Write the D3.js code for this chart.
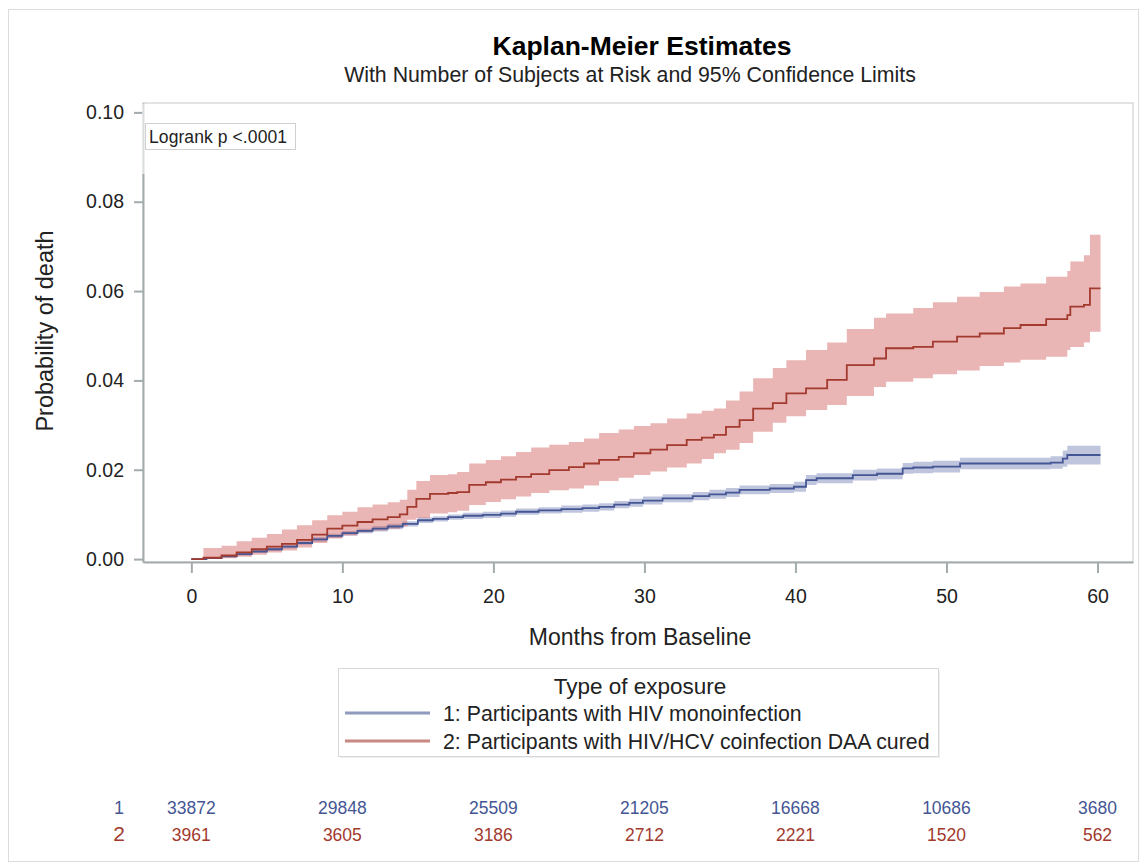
<!DOCTYPE html>
<html>
<head>
<meta charset="utf-8">
<script src="https://cdn.jsdelivr.net/npm/d3@7"></script>
<style>
  body { margin: 0; background: #fff; }
  text { font-family: "Liberation Sans", Arial, sans-serif; }
</style>
</head>
<body>
<script>
// group 1: HIV monoinfection
var blueTime = [0, 1, 2, 3, 4, 5, 6, 7, 8, 9, 10, 11, 12, 13, 14, 15, 16, 17, 18,
    19.3, 20.5, 21.5, 23, 24.5, 25.9, 27, 28, 29, 29.9,
    31.2, 33.2, 34.3, 35.4, 36.3, 38.3, 39.9, 40.7, 41.4, 43.8,
    45.4, 47.1, 47.8, 49.1, 50.9, 56.9, 57.7, 58.0, 60.2]
var blueEst = [0, .0002, .0006, .0011, .0017, .0022, .0028, .0036, .0044, .0052, .0058, .0063, .0068, .0073, .0079, .0087, .0090, .0094, .0097,
    .0099, .0102, .0106, .0109, .0112, .0114, .0117, .0122, .0126, .0131,
    .0136, .0141, .0145, .0149, .0155, .0158, .0162, .0177, .0181, .0188,
    .0191, .0203, .0205, .0207, .0214, .0216, .0225, .0233, .0233]
var blueLow = [0, 0, .0004, .0008, .0014, .0018, .0024, .0032, .0039, .0047, .0053, .0058, .0062, .0067, .0073, .0081, .0084, .0088, .0090,
    .0092, .0095, .0099, .0102, .0104, .0106, .0109, .0114, .0117, .0122,
    .0127, .0132, .0135, .0139, .0145, .0148, .0151, .0166, .0170, .0176,
    .0179, .0191, .0192, .0194, .0201, .0202, .0207, .0212, .0212]
var blueHigh = [0, .0004, .0008, .0014, .0020, .0026, .0032, .0040, .0049, .0057, .0063, .0068, .0074, .0079, .0085, .0093, .0096, .0100, .0104,
    .0106, .0109, .0113, .0116, .0120, .0122, .0125, .0130, .0135, .0140,
    .0145, .0150, .0155, .0159, .0165, .0168, .0173, .0188, .0192, .0200,
    .0203, .0215, .0218, .0220, .0227, .0230, .0243, .0254, .0254]

// group 2: HIV/HCV coinfection DAA cured
var redTime = [0, 0.8, 2, 3, 4, 5, 6, 7, 8, 9, 10, 11, 12, 13,
    13.8, 14.3, 14.9, 15.8, 17, 17.6, 18.4, 19.5, 20.5, 21.5,
    22.5, 23.7, 25, 26, 27, 28.3, 29.3, 30.4, 31.5, 32.8,
    33.8, 34.6, 35.4, 36.3, 37.2, 38.5, 39.4, 40.7, 42.1, 43.4,
    45.2, 46, 47.8, 49.1, 50.7, 52.2, 53.8, 54.9, 56.6, 58,
    58.2, 59.1, 59.5, 60.2]
var redEst = [0, .0003, .0008, .0015, .0022, .0028, .0034, .0043, .0055, .0068, .0075, .0083, .0089, .0094,
    .0100, .0117, .0135, .0146, .0148, .0150, .0166, .0172, .0178, .0184,
    .0190, .0199, .0206, .0214, .0222, .0229, .0237, .0245, .0255, .0267,
    .0272, .0278, .0296, .0311, .0337, .0349, .0371, .0382, .0401, .0434,
    .0449, .0472, .0475, .0487, .0498, .0505, .0517, .0524, .0537, .0546,
    .0565, .0569, .0606, .0606]
var redLow = [0, 0, .0002, .0005, .0010, .0015, .0019, .0026, .0036, .0046, .0053, .0060, .0064, .0068,
    .0073, .0088, .0092, .0102, .0105, .0108, .0121, .0128, .0134, .0140,
    .0148, .0154, .0158, .0165, .0175, .0182, .0188, .0196, .0205, .0214,
    .0224, .0237, .0245, .0260, .0285, .0305, .0320, .0334, .0345, .0365,
    .0385, .0397, .0405, .0414, .0422, .0432, .0440, .0446, .0453, .0468,
    .0475, .0485, .0509, .0509]
var redHigh = [0, .0025, .0030, .0040, .0048, .0056, .0066, .0076, .0087, .0098, .0106, .0116, .0122, .0127,
    .0133, .0155, .0175, .0188, .0190, .0195, .0214, .0222, .0230, .0240,
    .0250, .0256, .0262, .0270, .0282, .0290, .0298, .0304, .0315, .0326,
    .0332, .0337, .0355, .0375, .0405, .0428, .0445, .0468, .0485, .0515,
    .0540, .0550, .0562, .0575, .0587, .0598, .0610, .0617, .0632, .0645,
    .0666, .0680, .0726, .0726]

var xTicks = [0, 10, 20, 30, 40, 50, 60]
var yTicks = [0, 0.02, 0.04, 0.06, 0.08, 0.10]
var riskTimes = [0, 10, 20, 30, 40, 50, 60]
var riskBlue = [33872, 29848, 25509, 21205, 16668, 10686, 3680]
var riskRed = [3961, 3605, 3186, 2712, 2221, 1520, 562]
var legendLabels = ['1: Participants with HIV monoinfection', '2: Participants with HIV/HCV coinfection DAA cured']

var width = 1147;
var height = 867;
var blue = '#445694';
var red = '#A23A2E';

var svg = d3.select('body')
    .append('svg')
    .attr('width', width)
    .attr('height', height)

// outer border
svg.append('rect')
    .attr('x', 8.5).attr('y', 9.5)
    .attr('width', 1130).attr('height', 852)
    .attr('fill', 'none')
    .attr('stroke', '#dcdcdc')

var plotLeft = 143, plotRight = 1133, plotTop = 103, plotBottom = 562;

var x = d3.scaleLinear()
    .domain([-3.2, 62.35])
    .range([plotLeft, plotRight]);

var y = d3.scaleLinear()
    .domain([-0.00065, 0.1021])
    .range([plotBottom, plotTop]);

// titles
svg.append('text')
    .attr('x', 642).attr('y', 55)
    .attr('text-anchor', 'middle')
    .style('font-size', '26.5px').style('font-weight', 'bold')
    .text('Kaplan-Meier Estimates')

svg.append('text')
    .attr('x', 630).attr('y', 82)
    .attr('text-anchor', 'middle')
    .style('font-size', '21.3px')
    .attr('fill', '#222')
    .text('With Number of Subjects at Risk and 95% Confidence Limits')

// plot frame (top and right)
svg.append('rect')
    .attr('x', plotLeft).attr('y', plotTop)
    .attr('width', plotRight - plotLeft).attr('height', plotBottom - plotTop)
    .attr('fill', 'none')
    .attr('stroke', '#c8c8c8')

svg.append('clipPath').attr('id', 'clip')
    .append('rect')
    .attr('x', plotLeft).attr('y', plotTop)
    .attr('width', plotRight - plotLeft).attr('height', plotBottom - plotTop)

var plot = svg.append('g').attr('clip-path', 'url(#clip)')

function series(t, est, lo, hi) {
    return t.map((d, i) => ({ t: d, est: est[i], lo: lo[i], hi: hi[i] }))
}
var blueData = series(blueTime, blueEst, blueLow, blueHigh)
var redData = series(redTime, redEst, redLow, redHigh)

var band = d3.area()
    .curve(d3.curveStepAfter)
    .x(d => x(d.t))
    .y0(d => y(d.lo))
    .y1(d => y(d.hi))

var line = d3.line()
    .curve(d3.curveStepAfter)
    .x(d => x(d.t))
    .y(d => y(d.est))

plot.append('path').datum(blueData)
    .attr('fill', '#6F7EB3').attr('fill-opacity', 0.45)
    .attr('d', band)
plot.append('path').datum(redData)
    .attr('fill', '#D05B5B').attr('fill-opacity', 0.45)
    .attr('d', band)
plot.append('path').datum(blueData)
    .attr('fill', 'none').attr('stroke', blue).attr('stroke-width', 1.8)
    .attr('d', line)
plot.append('path').datum(redData)
    .attr('fill', 'none').attr('stroke', red).attr('stroke-width', 1.8)
    .attr('d', line)

// axes
var yAxisGroup = svg.append('g')
    .attr('class', 'yAxisGroup')
    .attr('transform', 'translate(' + plotLeft + ',0)')
var yAxis = d3.axisLeft(y)
    .tickValues(yTicks)
    .tickFormat(d3.format('.2f'))
    .tickSize(9).tickSizeOuter(0).tickPadding(10)
yAxis(yAxisGroup);

var xAxisGroup = svg.append('g')
    .attr('class', 'xAxisGroup')
    .attr('transform', 'translate(0,' + plotBottom + ')')
var xAxis = d3.axisBottom(x)
    .tickValues(xTicks)
    .tickSize(11).tickSizeOuter(0).tickPadding(16)
xAxis(xAxisGroup);

svg.selectAll('.xAxisGroup, .yAxisGroup').selectAll('path, line')
    .attr('stroke', '#a3abad').attr('stroke-width', 2)
svg.selectAll('.xAxisGroup text, .yAxisGroup text')
    .style('font-size', '19.5px')
    .style('font-family', '"Liberation Sans", Arial, sans-serif')
    .attr('fill', '#222')

// inset background over upper-left corner
svg.append('rect')
    .attr('x', plotLeft - 1).attr('y', plotTop + 1)
    .attr('width', 172).attr('height', 70)
    .attr('fill', '#fff').attr('fill-opacity', 0.6)

svg.append('rect')
    .attr('x', 145.5).attr('y', 123.5)
    .attr('width', 150).attr('height', 26)
    .attr('fill', '#fff')
    .attr('stroke', '#d0d0d0')
svg.append('text')
    .attr('x', 149).attr('y', 142.5)
    .style('font-size', '17.5px')
    .attr('textLength', 138)
    .attr('fill', '#222')
    .text('Logrank p <.0001')

// axis labels
svg.append('text')
    .attr('transform', 'translate(53,331) rotate(-90)')
    .attr('text-anchor', 'middle')
    .style('font-size', '23.5px')
    .attr('fill', '#222')
    .text('Probability of death')

svg.append('text')
    .attr('x', 640).attr('y', 645)
    .attr('text-anchor', 'middle')
    .style('font-size', '23px')
    .attr('fill', '#222')
    .text('Months from Baseline')

// legend
var legend = svg.append('g')
legend.append('rect')
    .attr('x', 340).attr('y', 670)
    .attr('width', 600).attr('height', 88)
    .attr('fill', '#eee')
legend.append('rect')
    .attr('x', 338.5).attr('y', 668.5)
    .attr('width', 600).attr('height', 88)
    .attr('fill', '#fff')
    .attr('stroke', '#d8d8d8')
legend.append('text')
    .attr('x', 640).attr('y', 694)
    .attr('text-anchor', 'middle')
    .style('font-size', '22.5px')
    .attr('fill', '#222')
    .text('Type of exposure')

var legendColors = [blue, red]
legendLabels.forEach((label, i) => {
    var ly = 713 + i * 28
    legend.append('line')
        .attr('x1', 345).attr('x2', 430)
        .attr('y1', ly).attr('y2', ly)
        .attr('stroke', legendColors[i]).attr('stroke-width', 3)
        .attr('stroke-opacity', 0.6)
    legend.append('text')
        .attr('x', 443).attr('y', ly + 7.5)
        .style('font-size', '21.3px')
        .attr('fill', '#222')
        .text(label)
})

// number at risk
var riskRows = [riskBlue, riskRed]
riskRows.forEach((row, i) => {
    var ry = 814 + i * 27
    svg.append('text')
        .attr('x', 119).attr('y', ry)
        .attr('text-anchor', 'middle')
        .style('font-size', i == 0 ? '18px' : '21px')
        .attr('fill', legendColors[i])
        .text(i + 1)
    svg.append('g').selectAll('text')
        .data(row)
        .join('text')
        .attr('x', (d, j) => x(riskTimes[j]))
        .attr('y', ry)
        .attr('text-anchor', 'middle')
        .style('font-size', '17.5px')
        .attr('fill', legendColors[i])
        .text(d => d)
})
</script>
</body>
</html>
